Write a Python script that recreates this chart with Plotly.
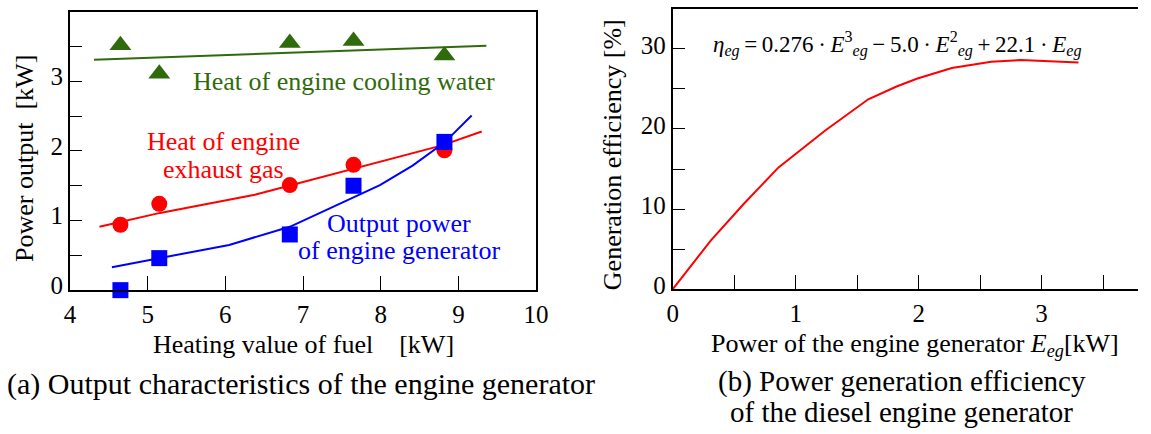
import plotly.graph_objects as go

W, H = 1151, 434

# ---- data (a) ----
fuel_pts = [4.65, 5.15, 6.83, 7.65, 8.82]
cooling_pts = [3.52, 3.11, 3.55, 3.58, 3.37]
exhaust_pts = [0.94, 1.24, 1.51, 1.80, 2.01]
output_pts = [0.00, 0.46, 0.80, 1.50, 2.13]

cooling_fit_x = [4.31, 9.36]
cooling_fit_y = [3.31, 3.51]
exhaust_fit_x = [4.38, 5.16, 6.38, 6.82, 7.66, 8.79, 9.30]
exhaust_fit_y = [0.91, 1.11, 1.37, 1.50, 1.74, 2.08, 2.28]
output_fit_x = [4.54, 5.16, 6.05, 6.83, 7.65, 7.99, 8.41, 8.82, 9.17]
output_fit_y = [0.33, 0.46, 0.65, 0.91, 1.34, 1.51, 1.79, 2.12, 2.51]

# ---- data (b) ----
eg_x = [0.0, 0.31, 0.58, 0.86, 1.24, 1.59, 1.82, 1.99, 2.27, 2.59, 2.83, 3.30]
eff_y = [0.0, 6.1, 10.7, 15.2, 19.8, 23.7, 25.3, 26.3, 27.6, 28.4, 28.6, 28.3]

GREEN = "#2f6b0c"
RED = "#ff0000"
BLUE = "#0000ff"
FONT = "Liberation Serif"
FS = 26
TFS = 25
CFS = 30


def px(x):
    return x / W


def py(y):
    return 1 - y / H


fig = go.Figure()

# (a)
fig.add_trace(go.Scatter(x=cooling_fit_x, y=cooling_fit_y, mode="lines",
                         line=dict(color=GREEN, width=2), xaxis="x", yaxis="y"))
fig.add_trace(go.Scatter(x=exhaust_fit_x, y=exhaust_fit_y, mode="lines",
                         line=dict(color=RED, width=2), xaxis="x", yaxis="y"))
fig.add_trace(go.Scatter(x=output_fit_x, y=output_fit_y, mode="lines",
                         line=dict(color=BLUE, width=2), xaxis="x", yaxis="y"))
fig.add_trace(go.Scatter(x=fuel_pts, y=cooling_pts, mode="markers", cliponaxis=False,
                         marker=dict(symbol="triangle-up", size=19, color=GREEN),
                         xaxis="x", yaxis="y"))
fig.add_trace(go.Scatter(x=fuel_pts, y=exhaust_pts, mode="markers", cliponaxis=False,
                         marker=dict(symbol="circle", size=16, color=RED),
                         xaxis="x", yaxis="y"))
fig.add_trace(go.Scatter(x=fuel_pts, y=output_pts, mode="markers", cliponaxis=False,
                         marker=dict(symbol="square", size=16, color=BLUE),
                         xaxis="x", yaxis="y"))

# (b)
fig.add_trace(go.Scatter(x=eg_x, y=eff_y, mode="lines",
                         line=dict(color=RED, width=2), xaxis="x2", yaxis="y2"))

axis_common = dict(showgrid=False, zeroline=False, showline=True, linecolor="black",
                   linewidth=2, ticks="inside", tickcolor="black", tickwidth=1,
                   tickfont=dict(family=FONT, size=TFS, color="black"))

fig.update_layout(
    width=W, height=H,
    margin=dict(l=0, r=0, t=0, b=0),
    paper_bgcolor="white", plot_bgcolor="white",
    showlegend=False,
    font=dict(family=FONT, size=FS, color="black"),
    xaxis=dict(domain=[px(65), px(539)], range=[4, 10], dtick=1, ticklen=14,
               mirror=True, anchor="y", ticklabelstandoff=1, **axis_common),
    yaxis=dict(domain=[py(297), py(12)], range=[0, 4], dtick=1, ticklen=12,
               mirror=True, anchor="x", ticklabelshift=-5,
               minor=dict(dtick=0.5, ticks="inside", ticklen=12, tickcolor="black", tickwidth=1),
               **axis_common),
    xaxis2=dict(domain=[px(678), 1.0], range=[0, (1151 - 678) / 125], dtick=1, ticklen=14,
                mirror=True, anchor="y2", ticklabelstandoff=1,
                minor=dict(dtick=0.5, ticks="inside", ticklen=14, tickcolor="black", tickwidth=1),
                **axis_common),
    yaxis2=dict(domain=[py(296), py(9)], range=[0, 35], dtick=10, ticklen=12,
                mirror=False, anchor="x2", ticklabelshift=-4,
                minor=dict(dtick=5, ticks="inside", ticklen=12, tickcolor="black", tickwidth=1),
                **axis_common),
)

ann = []


def txt(text, x, y, color="black", size=FS, xanchor="center", yanchor="middle", angle=0,
        xref="paper", yref="paper"):
    ann.append(dict(text=text, x=x, y=y, xref=xref, yref=yref, showarrow=False,
                    xanchor=xanchor, yanchor=yanchor, textangle=angle,
                    font=dict(family=FONT, size=size, color=color)))


# series labels (a)
txt("Heat of engine cooling water", px(188), py(83), GREEN, xanchor="left")
txt("Heat of engine", px(221), py(145), RED)
txt("exhaust gas", px(221), py(173), RED)
txt("Output power", px(400), py(229), BLUE)
txt("of engine generator", px(400), py(256), BLUE)

# axis titles
txt("Power output  [kW]", px(19), py(162), angle=-90)
txt("Heating value of fuel \u2002 [kW]", px(302), py(353))
txt("(a) Output characteristics of the engine generator", px(300), py(393), size=CFS)

txt("Generation efficiency [%]", px(617), py(158), angle=-90)
txt("Power of the engine generator <i>E</i><sub><i>eg</i></sub>[kW]", px(924), py(353))
txt("(b) Power generation efficiency", px(911), py(391), size=29)
txt("of the diesel engine generator", px(911), py(422), size=29)

# equation
txt("<i>η</i><sub><i>eg</i></sub>\u2009=\u20090.276\u2009·\u2009<i>E</i><sup>3</sup><sub><i>eg</i></sub>"
    "\u2009−\u20095.0\u2009·\u2009<i>E</i><sup>2</sup><sub><i>eg</i></sub>"
    "\u2009+\u200922.1\u2009·\u2009<i>E</i><sub><i>eg</i></sub>",
    px(906), py(45), size=23)

fig.update_layout(annotations=ann)

fig.write_html("out.html")
